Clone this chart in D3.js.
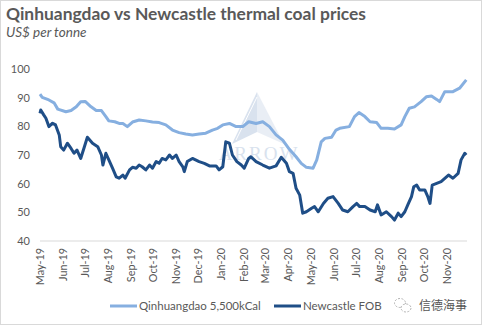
<!DOCTYPE html>
<html>
<head>
<meta charset="utf-8">
<script src="https://cdn.jsdelivr.net/npm/d3@7"></script>
<style>
  body { margin: 0; background: #fff; }
  svg { display: block; font-family: Lato, "Open Sans", sans-serif; }
</style>
</head>
<body>
<div id="chart"></div>
<script>
// Qinhuangdao 5,500kCal
var qhdDates = ["2019-05-01","2019-05-04","2019-05-13","2019-05-20","2019-05-25","2019-06-05","2019-06-12","2019-06-19","2019-06-25",
  "2019-07-01","2019-07-09","2019-07-16","2019-07-23","2019-07-29","2019-08-02","2019-08-10","2019-08-16","2019-08-21","2019-08-27",
  "2019-09-03","2019-09-12","2019-09-21","2019-09-30","2019-10-09","2019-10-18","2019-10-27","2019-11-05","2019-11-14","2019-11-23",
  "2019-12-02","2019-12-11","2019-12-20","2019-12-27","2020-01-03","2020-01-12","2020-01-21","2020-01-30","2020-02-07","2020-02-17",
  "2020-02-26","2020-03-06","2020-03-15","2020-03-24","2020-04-02","2020-04-11","2020-04-18","2020-04-25","2020-05-04","2020-05-09",
  "2020-05-15","2020-05-20","2020-05-29","2020-06-04","2020-06-09","2020-06-22","2020-06-29","2020-07-05","2020-07-13","2020-07-20",
  "2020-07-29","2020-08-04","2020-08-13","2020-08-22","2020-08-31","2020-09-05","2020-09-11","2020-09-18","2020-09-27","2020-10-04",
  "2020-10-11","2020-10-18","2020-10-22","2020-10-29","2020-11-09","2020-11-18","2020-11-27"];
var qhdValues = [91.2,90.1,89.2,88.2,86.0,85.1,85.5,86.8,88.6,
  88.7,86.8,85.5,85.5,83.4,81.9,81.6,81.0,81.0,79.9,
  81.5,82.2,81.9,81.5,81.3,80.5,78.7,77.8,77.3,77.0,
  77.3,77.6,78.7,79.3,80.5,81.0,79.9,79.9,81.6,81.0,
  81.6,79.9,77.0,75.2,72.0,69.4,67.1,65.7,65.4,68.3,
  74.6,75.8,76.2,78.7,79.3,79.9,83.4,84.8,83.4,81.6,
  81.3,79.3,79.3,79.1,80.5,83.4,86.3,86.8,88.6,90.3,
  90.6,89.4,88.6,92.1,92.1,93.3,96.2];

// Newcastle FOB
var ncDates = ["2019-05-01","2019-05-02","2019-05-06","2019-05-09","2019-05-13","2019-05-18","2019-05-22","2019-05-27","2019-05-29",
  "2019-06-02","2019-06-07","2019-06-12","2019-06-16","2019-06-20","2019-06-25","2019-06-30","2019-07-04","2019-07-11","2019-07-18",
  "2019-07-23","2019-07-25","2019-07-29","2019-08-02","2019-08-07","2019-08-12","2019-08-16","2019-08-21","2019-08-24","2019-08-30",
  "2019-09-03","2019-09-08","2019-09-12","2019-09-16","2019-09-21","2019-09-26","2019-09-30","2019-10-05","2019-10-09","2019-10-13",
  "2019-10-18","2019-10-23","2019-10-27","2019-11-01","2019-11-05","2019-11-10","2019-11-12","2019-11-16","2019-11-23","2019-12-02",
  "2019-12-09","2019-12-16","2019-12-25","2019-12-29","2020-01-03","2020-01-07","2020-01-12","2020-01-16","2020-01-22","2020-01-28",
  "2020-02-01","2020-02-07","2020-02-10","2020-02-17","2020-02-26","2020-03-06","2020-03-15","2020-03-22","2020-03-29","2020-04-02",
  "2020-04-07","2020-04-11","2020-04-16","2020-04-20","2020-04-25","2020-05-02","2020-05-06","2020-05-11","2020-05-18","2020-05-24",
  "2020-05-31","2020-06-07","2020-06-13","2020-06-20","2020-06-27","2020-07-02","2020-07-06","2020-07-13","2020-07-20","2020-07-27",
  "2020-07-30","2020-08-04","2020-08-11","2020-08-18","2020-08-22","2020-08-27","2020-08-31","2020-09-05","2020-09-09","2020-09-14",
  "2020-09-17","2020-09-21","2020-09-25","2020-10-02","2020-10-06","2020-10-09","2020-10-12","2020-10-18","2020-10-24","2020-11-03",
  "2020-11-09","2020-11-16","2020-11-20","2020-11-25","2020-11-27"];
var ncValues = [84.5,85.7,84.0,82.8,79.9,81.1,80.5,77.0,72.9,
  71.7,74.1,72.3,70.6,71.7,68.8,72.9,76.2,74.1,72.9,
  70.0,66.5,70.6,68.3,65.4,62.4,61.9,63.0,61.9,64.8,
  65.7,65.4,66.5,65.9,64.8,66.5,65.4,67.7,67.1,68.8,
  68.3,70.0,68.8,70.0,67.7,65.9,64.2,67.7,68.8,67.7,
  67.1,66.2,66.2,64.8,65.9,74.6,74.1,70.0,67.7,66.5,
  65.4,68.8,69.4,67.7,66.5,65.4,66.2,69.2,67.1,64.2,
  63.6,58.4,56.0,49.7,50.2,51.4,52.0,50.2,53.1,54.9,
  55.5,53.1,50.8,50.2,52.0,53.1,52.0,52.0,50.8,50.2,
  52.6,49.1,50.2,48.5,47.3,49.7,48.5,50.2,52.6,55.5,
  58.9,59.5,57.8,57.8,55.5,53.1,59.5,60.1,60.7,63.0,
  61.9,63.6,68.3,70.6,70.0];

var yTicks = [40, 50, 60, 70, 80, 90, 100];
var seriesNames = ["Qinhuangdao 5,500kCal", "Newcastle FOB"];
var seriesColors = ["#86afe0", "#1f4e87"];

var width = 482, height = 326;
var margin = { top: 69, right: 15, bottom: 85, left: 40 };
var parseDate = d3.timeParse("%Y-%m-%d");

var svg = d3.select("#chart").append("svg")
    .attr("width", width)
    .attr("height", height);

// outer frame
svg.append("rect")
    .attr("x", 0.5).attr("y", 0.5)
    .attr("width", width - 1).attr("height", height - 2)
    .attr("fill", "#fff")
    .attr("stroke", "#d9d9d9");

var x = d3.scaleTime()
    .domain([parseDate("2019-05-01"), parseDate("2020-11-28")])
    .range([margin.left, width - margin.right]);

var y = d3.scaleLinear()
    .domain([40, 100])
    .range([height - margin.bottom, margin.top]);

// faint logo watermark behind the lines
var wm = svg.append("g").attr("opacity", 0.7);
wm.append("path")
    .attr("d", "M257,92 L232,144 L257,132 Z")
    .attr("fill", "#c9d6e8");
wm.append("path")
    .attr("d", "M257,92 L284,144 L257,132 Z")
    .attr("fill", "#e1e8f2");
wm.append("path")
    .attr("d", "M257,97 L236,140")
    .attr("stroke", "#fff").attr("stroke-width", 1);
wm.append("text")
    .attr("x", 259).attr("y", 160)
    .attr("text-anchor", "middle")
    .attr("font-family", "Liberation Serif, serif")
    .attr("font-size", 19)
    .attr("letter-spacing", 2)
    .attr("fill", "#c9d6e8")
    .text("ARROW");

// x axis line
svg.append("line")
    .attr("x1", margin.left).attr("x2", width - margin.right)
    .attr("y1", y(40)).attr("y2", y(40))
    .attr("stroke", "#d9d9d9");

// y tick labels
svg.append("g")
    .selectAll("text")
    .data(yTicks)
    .enter().append("text")
    .attr("x", 30)
    .attr("y", d => y(d))
    .attr("dy", "0.35em")
    .attr("text-anchor", "end")
    .attr("font-size", 11)
    .attr("fill", "#595959")
    .text(d => d);

// x tick labels (rotated)
var months = x.ticks(d3.timeMonth.every(1)).filter(d => d <= parseDate("2020-11-01"));
svg.append("g")
    .selectAll("text")
    .data(months)
    .enter().append("text")
    .attr("transform", d => "translate(" + x(d) + "," + (y(40) + 7) + ") rotate(-90)")
    .attr("dy", "0.35em")
    .attr("text-anchor", "end")
    .attr("font-size", 10.8)
    .attr("fill", "#595959")
    .text(d3.timeFormat("%b-%y"));

// lines
var line = d3.line()
    .x(d => x(d.date))
    .y(d => y(d.value));

var series = [
  qhdDates.map((d, i) => ({ date: parseDate(d), value: qhdValues[i] })),
  ncDates.map((d, i) => ({ date: parseDate(d), value: ncValues[i] }))
];

series.forEach(function(s, i) {
  svg.append("path")
      .datum(s)
      .attr("fill", "none")
      .attr("stroke", seriesColors[i])
      .attr("stroke-width", 3)
      .attr("stroke-linejoin", "round")
      .attr("d", line);
});

// title + subtitle
svg.append("text")
    .attr("x", 6).attr("y", 20)
    .attr("font-size", 17)
    .attr("font-weight", "bold")
    .attr("fill", "#595959")
    .attr("textLength", 360)
    .attr("lengthAdjust", "spacingAndGlyphs")
    .text("Qinhuangdao vs Newcastle thermal coal prices");

svg.append("text")
    .attr("x", 6).attr("y", 37)
    .attr("font-size", 13.5)
    .attr("font-style", "italic")
    .attr("fill", "#595959")
    .text("US$ per tonne");

// legend
var legendX = [110, 274];
var legend = svg.append("g");
seriesNames.forEach(function(name, i) {
  legend.append("line")
      .attr("x1", legendX[i]).attr("x2", legendX[i] + 27)
      .attr("y1", 306).attr("y2", 306)
      .attr("stroke", seriesColors[i])
      .attr("stroke-width", 3);
  legend.append("text")
      .attr("x", legendX[i] + 29).attr("y", 306)
      .attr("dy", "0.35em")
      .attr("font-size", 11.5)
      .attr("fill", "#595959")
      .text(name);
});

// source watermark
var wx = svg.append("g").attr("stroke", "#aaa").attr("fill", "none").attr("stroke-width", 0.9);
wx.append("ellipse").attr("cx", 400).attr("cy", 303).attr("rx", 5.5).attr("ry", 4.5).attr("stroke-dasharray", "2,1.5");
wx.append("ellipse").attr("cx", 406).attr("cy", 308).attr("rx", 5).attr("ry", 4).attr("fill", "#fff").attr("stroke-dasharray", "2,1.5");
svg.append("text")
    .attr("x", 419).attr("y", 306)
    .attr("dy", "0.35em")
    .attr("font-family", "Noto Sans CJK SC")
    .attr("font-size", 12)
    .attr("fill", "#555")
    .text("信德海事");
</script>
</body>
</html>
